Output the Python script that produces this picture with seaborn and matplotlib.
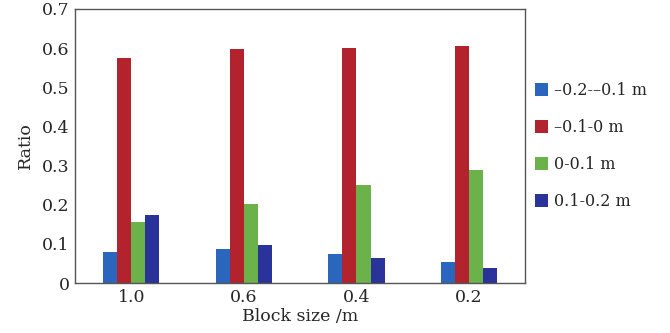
import matplotlib

matplotlib.use("Agg")
import matplotlib.pyplot as plt
import pandas as pd
import seaborn as sns

# data
block_sizes = ["1.0", "0.6", "0.4", "0.2"]
ranges = ["\u20130.2-\u20130.1 m", "\u20130.1-0 m", "0-0.1 m", "0.1-0.2 m"]
ratio_neg02 = [0.080, 0.088, 0.073, 0.054]
ratio_neg01 = [0.575, 0.599, 0.601, 0.606]
ratio_pos01 = [0.157, 0.202, 0.251, 0.289]
ratio_pos02 = [0.173, 0.098, 0.063, 0.039]

colors = ["#2a66bd", "#b2232d", "#6bb24a", "#2a3399"]

sns.set_theme(style="white")
plt.rcParams["font.family"] = ["DejaVu Serif"]

rows = []
for name, vals in zip(ranges, [ratio_neg02, ratio_neg01, ratio_pos01, ratio_pos02]):
    for b, v in zip(block_sizes, vals):
        rows.append({"block": b, "range": name, "ratio": v})
df = pd.DataFrame(rows)

fig = plt.figure(figsize=(6.7, 3.33), dpi=100)
ax = fig.add_axes([0.112, 0.150, 0.672, 0.823])
sns.barplot(data=df, x="block", y="ratio", hue="range", order=block_sizes,
            hue_order=ranges, palette=colors, width=0.5, saturation=1,
            ax=ax)
for p in ax.patches:
    p.set_edgecolor("none")

ax.set_ylim(0, 0.7)
ax.set_xlim(-0.5, 3.5)
ax.set_yticks([0, 0.1, 0.2, 0.3, 0.4, 0.5, 0.6, 0.7])
ax.set_yticklabels(["0", "0.1", "0.2", "0.3", "0.4", "0.5", "0.6", "0.7"])
ax.tick_params(axis="both", length=0, labelsize=12.5, pad=4)
ax.set_xlabel("Block size /m", fontsize=12.5, labelpad=2)
ax.set_ylabel("Ratio", fontsize=12.5, labelpad=6)
for s in ax.spines.values():
    s.set_color("#555555")
    s.set_linewidth(1.0)

ax.legend(loc="center left", bbox_to_anchor=(1.0, 0.5), frameon=False,
          fontsize=11.5, handlelength=0.8, handleheight=0.8, handletextpad=0.4,
          labelspacing=1.25, borderaxespad=0.2)

fig.savefig("out.png", dpi=100)
